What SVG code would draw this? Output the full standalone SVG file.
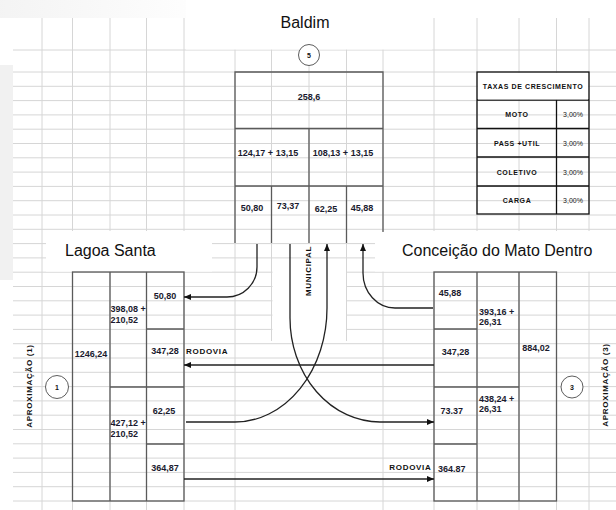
<svg xmlns="http://www.w3.org/2000/svg" width="616" height="510" viewBox="0 0 616 510">
<defs>
<style>
.grid line{stroke:#d6d6d6;stroke-width:1}
.box{fill:none;stroke:#5a5a5a;stroke-width:1.3}
.tbl{fill:none;stroke:#111;stroke-width:1.3}
.num{font-family:"Liberation Sans",Arial,sans-serif;font-size:9px;font-weight:bold;fill:#1a1a2e}
.title{font-family:"Liberation Sans",Arial,sans-serif;font-size:16px;fill:#111}
.lbl{font-family:"Liberation Sans",Arial,sans-serif;font-size:8px;font-weight:bold;fill:#111;letter-spacing:0.7px}
.tt{font-family:"Liberation Sans",Arial,sans-serif;font-size:7px;font-weight:bold;fill:#111;letter-spacing:0.6px}
.pct{font-family:"Liberation Sans",Arial,sans-serif;font-size:7px;fill:#222}
.cnum{font-family:"Liberation Sans",Arial,sans-serif;font-size:7px;font-weight:bold;fill:#111}
.circ{fill:#fff;stroke:#333;stroke-width:0.8}
.mid{text-anchor:middle}
.conn path{fill:none;stroke:#222;stroke-width:1.3}
</style>
<marker id="ah" markerUnits="userSpaceOnUse" markerWidth="8" markerHeight="6" refX="7" refY="3" orient="auto">
<path d="M0,0 L7,3 L0,6 z" fill="#111"/>
</marker>
<linearGradient id="tg" x1="0" y1="0" x2="1" y2="0">
<stop offset="0" stop-color="#ececec"/>
<stop offset="1" stop-color="#ffffff"/>
</linearGradient>
</defs>
<rect x="0" y="0" width="616" height="510" fill="#fff"/>
<rect x="0" y="0" width="220" height="18" fill="url(#tg)" opacity="0.6"/>
<rect x="0" y="65" width="13" height="215" fill="#f1f1f1"/>
<g class="grid">
<line x1="13" y1="50" x2="616" y2="50"/>
<line x1="13" y1="72" x2="616" y2="72"/>
<line x1="13" y1="86.3" x2="616" y2="86.3"/>
<line x1="13" y1="100.6" x2="616" y2="100.6"/>
<line x1="13" y1="114.9" x2="616" y2="114.9"/>
<line x1="13" y1="129.2" x2="616" y2="129.2"/>
<line x1="13" y1="143.5" x2="616" y2="143.5"/>
<line x1="13" y1="157.8" x2="616" y2="157.8"/>
<line x1="13" y1="172.1" x2="616" y2="172.1"/>
<line x1="13" y1="186.4" x2="616" y2="186.4"/>
<line x1="13" y1="200.7" x2="616" y2="200.7"/>
<line x1="13" y1="215" x2="616" y2="215"/>
<line x1="13" y1="229.3" x2="616" y2="229.3"/>
<line x1="13" y1="243.6" x2="616" y2="243.6"/>
<line x1="13" y1="257.9" x2="616" y2="257.9"/>
<line x1="13" y1="272.2" x2="616" y2="272.2"/>
<line x1="13" y1="286.5" x2="616" y2="286.5"/>
<line x1="13" y1="300.8" x2="616" y2="300.8"/>
<line x1="13" y1="315.1" x2="616" y2="315.1"/>
<line x1="13" y1="329.4" x2="616" y2="329.4"/>
<line x1="13" y1="343.7" x2="616" y2="343.7"/>
<line x1="13" y1="358" x2="616" y2="358"/>
<line x1="13" y1="372.3" x2="616" y2="372.3"/>
<line x1="13" y1="386.6" x2="616" y2="386.6"/>
<line x1="13" y1="400.9" x2="616" y2="400.9"/>
<line x1="13" y1="415.2" x2="616" y2="415.2"/>
<line x1="13" y1="429.5" x2="616" y2="429.5"/>
<line x1="13" y1="443.8" x2="616" y2="443.8"/>
<line x1="13" y1="458.1" x2="616" y2="458.1"/>
<line x1="13" y1="472.4" x2="616" y2="472.4"/>
<line x1="13" y1="486.7" x2="616" y2="486.7"/>
<line x1="13" y1="501" x2="616" y2="501"/>
<line x1="42" y1="18" x2="42" y2="510"/>
<line x1="72.5" y1="18" x2="72.5" y2="510"/>
<line x1="110" y1="18" x2="110" y2="510"/>
<line x1="146.5" y1="18" x2="146.5" y2="510"/>
<line x1="184" y1="18" x2="184" y2="510"/>
<line x1="235" y1="18" x2="235" y2="510"/>
<line x1="271.5" y1="18" x2="271.5" y2="341"/>
<line x1="309" y1="18" x2="309" y2="244"/>
<line x1="346.5" y1="18" x2="346.5" y2="341"/>
<line x1="383" y1="18" x2="383" y2="510"/>
<line x1="434" y1="18" x2="434" y2="510"/>
<line x1="477" y1="18" x2="477" y2="510"/>
<line x1="519" y1="18" x2="519" y2="510"/>
<line x1="556.5" y1="18" x2="556.5" y2="510"/>
<line x1="589" y1="18" x2="589" y2="510"/>
</g>
<rect x="186" y="0" width="246" height="49.5" fill="#fff"/>
<rect x="46" y="231" width="166" height="40.5" fill="#fff"/>
<rect x="375" y="231" width="241" height="40.5" fill="#fff"/>
<rect x="272.5" y="259" width="73.5" height="82" fill="#fff"/>
<text class="title mid" x="305" y="28">Baldim</text>
<text class="title" x="65" y="256">Lagoa Santa</text>
<text class="title" x="402" y="256">Conceição do Mato Dentro</text>
<g id="baldim">
<path class="box" d="M235,243 V72 H383 V232"/>
<line class="box" x1="235" y1="128.5" x2="383" y2="128.5"/>
<line class="box" x1="235" y1="186" x2="383" y2="186"/>
<line class="box" x1="309" y1="128.5" x2="309" y2="243"/>
<line class="box" x1="271.5" y1="186" x2="271.5" y2="243"/>
<line class="box" x1="346.5" y1="186" x2="346.5" y2="243"/>
<circle class="circ" cx="309" cy="55" r="10.5"/>
<text class="cnum mid" x="309" y="57.5">5</text>
<text class="num mid" x="309" y="100">258,6</text>
<text class="num mid" x="268" y="156">124,17 + 13,15</text>
<text class="num mid" x="343" y="156">108,13 + 13,15</text>
<text class="num mid" x="252" y="211">50,80</text>
<text class="num mid" x="288" y="209">73,37</text>
<text class="num mid" x="326" y="212">62,25</text>
<text class="num mid" x="362" y="211">45,88</text>
</g>
<g id="taxas">
<rect class="tbl" x="477" y="72" width="112" height="142"/>
<line class="tbl" x1="477" y1="100" x2="589" y2="100"/>
<line class="tbl" x1="477" y1="128.5" x2="589" y2="128.5"/>
<line class="tbl" x1="477" y1="157" x2="589" y2="157"/>
<line class="tbl" x1="477" y1="186" x2="589" y2="186"/>
<line class="tbl" x1="556.5" y1="100" x2="556.5" y2="214"/>
<rect x="478" y="73" width="110" height="26.5" fill="#fff"/>
<text class="tt mid" x="533" y="88.5">TAXAS DE CRESCIMENTO</text>
<text class="tt mid" x="517" y="116.5">MOTO</text>
<text class="tt mid" x="517" y="145.5">PASS +UTIL</text>
<text class="tt mid" x="517" y="174.5">COLETIVO</text>
<text class="tt mid" x="517" y="202.5">CARGA</text>
<text class="pct mid" x="573" y="116.5">3,00%</text>
<text class="pct mid" x="573" y="145.5">3,00%</text>
<text class="pct mid" x="573" y="174.5">3,00%</text>
<text class="pct mid" x="573" y="202.5">3,00%</text>
</g>
<g id="lagoa-santa">
<rect class="box" x="72.5" y="272" width="111.5" height="229"/>
<line class="box" x1="110" y1="272" x2="110" y2="501"/>
<line class="box" x1="146.5" y1="272" x2="146.5" y2="501"/>
<line class="box" x1="146.5" y1="329" x2="184" y2="329"/>
<line class="box" x1="110" y1="387" x2="184" y2="387"/>
<line class="box" x1="146.5" y1="444" x2="184" y2="444"/>
<text class="num mid" x="165" y="299">50,80</text>
<text class="num" x="110.5" y="312">398,08 +</text>
<text class="num" x="110.5" y="323">210,52</text>
<text class="num mid" x="91" y="357">1246,24</text>
<text class="num mid" x="165" y="354">347,28</text>
<text class="num mid" x="164" y="414">62,25</text>
<text class="num" x="110.5" y="426">427,12 +</text>
<text class="num" x="110.5" y="437">210,52</text>
<text class="num mid" x="165" y="471">364,87</text>
<circle class="circ" cx="57" cy="387" r="11.5"/>
<text class="cnum mid" x="57" y="389.5">1</text>
<text class="lbl mid" transform="translate(32,386) rotate(-90)">APROXIMAÇÃO (1)</text>
</g>
<g id="conceicao">
<rect class="box" x="434" y="272" width="122.5" height="229"/>
<line class="box" x1="477" y1="272" x2="477" y2="501"/>
<line class="box" x1="519" y1="272" x2="519" y2="501"/>
<line class="box" x1="434" y1="329" x2="477" y2="329"/>
<line class="box" x1="434" y1="387" x2="519" y2="387"/>
<line class="box" x1="434" y1="444" x2="477" y2="444"/>
<text class="num mid" x="450" y="296">45,88</text>
<text class="num" x="479" y="315">393,16 +</text>
<text class="num" x="479" y="325">26,31</text>
<text class="num mid" x="455.5" y="355">347,28</text>
<text class="num mid" x="536" y="351">884,02</text>
<text class="num mid" x="451.7" y="414">73.37</text>
<text class="num" x="479" y="402">438,24 +</text>
<text class="num" x="479" y="412">26,31</text>
<text class="num mid" x="451.7" y="472">364.87</text>
<circle class="circ" cx="572" cy="387" r="11"/>
<text class="cnum mid" x="572" y="389.5">3</text>
<text class="lbl mid" transform="translate(608,385) rotate(-90)">APROXIMAÇÃO (3)</text>
</g>
<g class="conn" id="connectors">
<path d="M257,244 V267 A30,30 0 0 1 227,297 H184" marker-end="url(#ah)"/>
<path d="M433,308 H395 A32,35 0 0 1 363,273 V244" marker-end="url(#ah)"/>
<path d="M186,422 H235 A92,114 0 0 0 327,308 V244" marker-end="url(#ah)"/>
<path d="M290,244 V318 A90,104 0 0 0 380,422 H434" marker-end="url(#ah)"/>
<path d="M434,365 H184" marker-end="url(#ah)"/>
<path d="M184,479 H434" marker-end="url(#ah)"/>
<text class="lbl" x="186" y="354">RODOVIA</text>
<text class="lbl" x="431.5" y="470" text-anchor="end">RODOVIA</text>
<text class="lbl mid" transform="translate(311,271) rotate(-90)">MUNICIPAL</text>
</g>
</svg>
